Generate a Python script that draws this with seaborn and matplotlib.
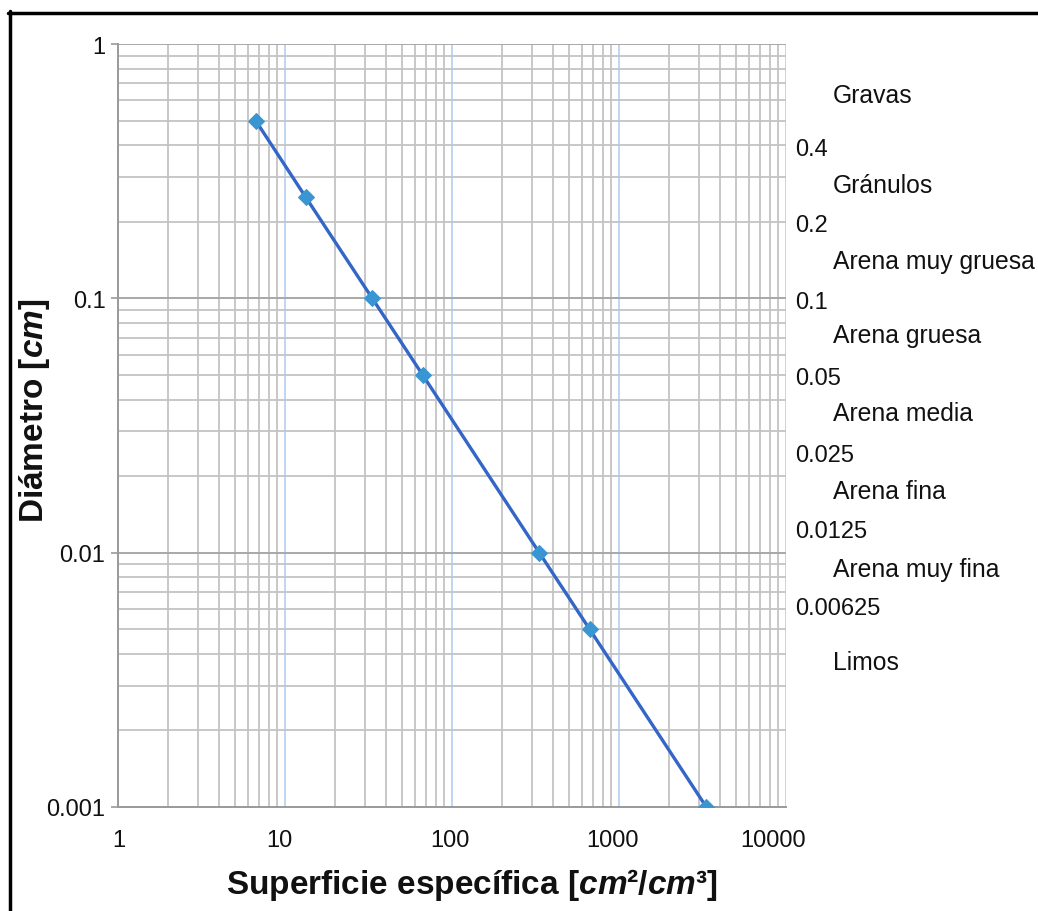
import matplotlib
matplotlib.use("Agg")
import matplotlib.pyplot as plt
import matplotlib.ticker as mticker
import matplotlib.transforms as mtransforms
from matplotlib.lines import Line2D
import seaborn as sns
import numpy as np
import pandas as pd

# Specific surface of spheres vs. grain diameter
superficie = [6.67, 13.3, 33.3, 66.7, 333, 667, 3333]   # cm2/cm3
diametro = [0.5, 0.25, 0.1, 0.05, 0.01, 0.005, 0.001]   # cm

# Grain-size class limits (cm) and class names drawn on the right
limites = [0.4, 0.2, 0.1, 0.05, 0.025, 0.0125, 0.00625]
limites_txt = ["0.4", "0.2", "0.1", "0.05", "0.025", "0.0125", "0.00625"]
clases = ["Gravas", "Gránulos", "Arena muy gruesa", "Arena gruesa",
          "Arena media", "Arena fina", "Arena muy fina", "Limos"]
clases_y = [0.63, 0.28, 0.14, 0.072, 0.0355, 0.0174, 0.0086, 0.0037]

x_ticks = [1, 10, 100, 1000, 10000]
x_ticklabels = ["1", "10", "100", "1000", "10000"]
y_ticks = [0.001, 0.01, 0.1, 1]
y_ticklabels = ["0.001", "0.01", "0.1", "1"]

sns.set_theme(style="white")
plt.rcParams["font.family"] = ["Liberation Sans", "DejaVu Sans"]
plt.rcParams["mathtext.fontset"] = "custom"
plt.rcParams["mathtext.it"] = "Liberation Sans:italic:bold"
plt.rcParams["mathtext.rm"] = "Liberation Sans:bold"
plt.rcParams["mathtext.bf"] = "Liberation Sans:bold"

W, H = 1038, 912
fig = plt.figure(figsize=(W / 100, H / 100), dpi=100)
fig.patch.set_facecolor("white")
ax = fig.add_axes([118 / W, 1 - 808 / H, (786 - 118) / W, (808 - 45) / H])

df = pd.DataFrame({"superficie": superficie, "diametro": diametro})
sns.lineplot(data=df, x="superficie", y="diametro", ax=ax, color="#3366c6",
             linewidth=2.4, marker="D", markersize=8.5,
             markerfacecolor="#3a96d2", markeredgecolor="#3a96d2", zorder=5)

ax.set_xscale("log")
ax.set_yscale("log")
ax.set_xlim(1, 10000)
ax.set_ylim(0.001, 1)

ax.xaxis.set_major_locator(mticker.FixedLocator(x_ticks))
ax.xaxis.set_major_formatter(mticker.FixedFormatter(x_ticklabels))
ax.yaxis.set_major_locator(mticker.FixedLocator(y_ticks))
ax.yaxis.set_major_formatter(mticker.FixedFormatter(y_ticklabels))
ax.xaxis.set_minor_locator(mticker.LogLocator(base=10, subs=np.arange(2, 10)))
ax.yaxis.set_minor_locator(mticker.LogLocator(base=10, subs=np.arange(2, 10)))
ax.xaxis.set_minor_formatter(mticker.NullFormatter())
ax.yaxis.set_minor_formatter(mticker.NullFormatter())

# Log-paper style grid
ax.grid(which="minor", axis="both", color="#c4c4c4", linewidth=1.3)
ax.grid(which="major", axis="y", color="#a8a8a8", linewidth=1.4)
ax.grid(which="major", axis="x", color="#b9d3f2", linewidth=1.3)
ax.set_axisbelow(True)

for side in ["top", "right"]:
    ax.spines[side].set_visible(False)
ax.spines["left"].set_color("#9a9a9a")
ax.spines["left"].set_linewidth(1.4)
ax.spines["bottom"].set_color("#9a9a9a")
ax.spines["bottom"].set_linewidth(1.4)

ax.tick_params(axis="y", which="major", left=True, length=5, width=1.2,
               color="#9a9a9a", pad=4, labelsize=17, labelcolor="#111111")
ax.tick_params(axis="y", which="minor", left=False)
ax.tick_params(axis="x", which="both", bottom=False, pad=10, labelsize=17,
               labelcolor="#111111")

# The x labels sit slightly left of their decade lines
label_shift_px = [1, -6, -2, -7, -13]
fig.canvas.draw()
for lbl, dx in zip(ax.get_xticklabels(), label_shift_px):
    lbl.set_transform(lbl.get_transform() +
                      mtransforms.ScaledTranslation(dx / 100, 0, fig.dpi_scale_trans))

ax.set_xlabel(r"Superficie específica [$\mathit{cm²/cm³}$]", fontsize=24,
              fontweight="bold", color="#111111")
ax.set_ylabel(r"Diámetro [$\mathit{cm}$]", fontsize=24, fontweight="bold",
              color="#111111")
ax.xaxis.set_label_coords((472 - 118) / 668, (808 - 885) / 763)
ax.yaxis.set_label_coords((35 - 118) / 668, (808 - 411) / 763)
ax.xaxis.label.set_va("center")
ax.yaxis.label.set_va("center")

# Class limits and names on the right side
trans = mtransforms.blended_transform_factory(fig.transFigure, ax.transData)
for val, txt in zip(limites, limites_txt):
    ax.text(795 / W, val * 0.97, txt, transform=trans, ha="left", va="center",
            fontsize=17, color="#111111")
for yv, name in zip(clases_y, clases):
    ax.text(833 / W, yv, name, transform=trans, ha="left", va="center",
            fontsize=17.8, color="#111111")

# Frame around the figure
fig.add_artist(Line2D([9.5 / W, 9.5 / W], [0, 1 - 12 / H], transform=fig.transFigure,
                      color="black", linewidth=2.5))
fig.add_artist(Line2D([8 / W, 1], [1 - 13.5 / H, 1 - 13.5 / H], transform=fig.transFigure,
                      color="black", linewidth=2.5))

fig.savefig("out.png", dpi=100)
